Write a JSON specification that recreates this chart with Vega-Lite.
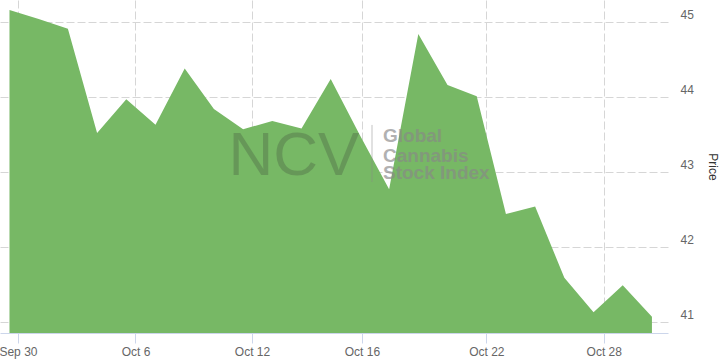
{
  "$schema": "https://vega.github.io/schema/vega-lite/v6.json",
  "width": 668,
  "height": 333,
  "autosize": {"type": "none"},
  "padding": {"left": 0, "top": 0, "right": 53, "bottom": 29},
  "background": "white",
  "config": {
    "view": {"stroke": null},
    "font": "Liberation Sans"
  },
  "data": {
    "values": [
      {"i": 0, "date": "2020-09-30", "price": 45.16},
      {"i": 1, "date": "2020-10-01", "price": 45.04},
      {"i": 2, "date": "2020-10-02", "price": 44.91},
      {"i": 3, "date": "2020-10-05", "price": 43.52},
      {"i": 4, "date": "2020-10-06", "price": 43.97},
      {"i": 5, "date": "2020-10-07", "price": 43.63},
      {"i": 6, "date": "2020-10-08", "price": 44.38},
      {"i": 7, "date": "2020-10-09", "price": 43.84},
      {"i": 8, "date": "2020-10-12", "price": 43.57},
      {"i": 9, "date": "2020-10-13", "price": 43.68},
      {"i": 10, "date": "2020-10-14", "price": 43.58},
      {"i": 11, "date": "2020-10-15", "price": 44.24},
      {"i": 12, "date": "2020-10-16", "price": 43.49},
      {"i": 13, "date": "2020-10-19", "price": 42.77},
      {"i": 14, "date": "2020-10-20", "price": 44.84},
      {"i": 15, "date": "2020-10-21", "price": 44.16},
      {"i": 16, "date": "2020-10-22", "price": 44.01},
      {"i": 17, "date": "2020-10-23", "price": 42.44},
      {"i": 18, "date": "2020-10-26", "price": 42.54},
      {"i": 19, "date": "2020-10-27", "price": 41.59},
      {"i": 20, "date": "2020-10-28", "price": 41.13},
      {"i": 21, "date": "2020-10-29", "price": 41.49},
      {"i": 22, "date": "2020-10-30", "price": 41.07}
    ]
  },
  "encoding": {
    "x": {
      "field": "i",
      "type": "quantitative",
      "scale": {"domain": [-0.325, 22.55], "nice": false, "zero": false},
      "axis": {
        "title": null,
        "values": [0.29, 4.315, 8.305, 12.07, 16.33, 20.35],
        "labelExpr": "datum.value < 2 ? 'Sep 30' : datum.value < 6 ? 'Oct 6' : datum.value < 10 ? 'Oct 12' : datum.value < 14 ? 'Oct 16' : datum.value < 18 ? 'Oct 22' : 'Oct 28'",
        "grid": true,
        "gridColor": "#d6d6d6",
        "gridDash": [8, 3],
        "gridWidth": 1,
        "domainColor": "#ccd6eb",
        "tickColor": "#ccd6eb",
        "tickSize": 10,
        "labelPadding": 3,
        "labelFontSize": 12,
        "labelColor": "#666666",
        "labelFlush": false
      }
    },
    "y": {
      "field": "price",
      "type": "quantitative",
      "scale": {"domain": [40.853, 45.293], "nice": false, "zero": false},
      "axis": {
        "orient": "right",
        "title": "Price",
        "titleColor": "#333333",
        "titleFontWeight": "normal",
        "titleFontSize": 12,
        "titlePadding": 12,
        "values": [41, 42, 43, 44, 45],
        "grid": true,
        "gridColor": "#d6d6d6",
        "gridDash": [8, 3],
        "gridWidth": 1,
        "domain": false,
        "ticks": false,
        "tickSize": 0,
        "labelPadding": 12,
        "labelOffset": -7,
        "labelAlign": "left",
        "labelFontSize": 12,
        "labelColor": "#666666"
      }
    }
  },
  "layer": [
    {
      "mark": {"type": "area", "color": "#77b865", "opacity": 1, "clip": true, "interpolate": "linear"},
      "encoding": {
        "y2": {"datum": 40.853}
      }
    },
    {
      "transform": [{"filter": "datum.i == 0"}],
      "mark": {"type": "text", "text": "NCV", "fontSize": 62, "font": "Liberation Sans", "color": "#333333", "opacity": 0.24, "align": "center", "baseline": "alphabetic"},
      "encoding": {
        "x": {"datum": 9.74, "type": "quantitative"},
        "y": {"datum": 42.96, "type": "quantitative"}
      }
    },
    {
      "transform": [{"filter": "datum.i == 0"}],
      "mark": {"type": "rule", "color": "#888888", "opacity": 0.5, "strokeWidth": 1},
      "encoding": {
        "x": {"datum": 12.414, "type": "quantitative"},
        "y": {"datum": 43.627, "type": "quantitative"},
        "y2": {"datum": 42.867}
      }
    },
    {
      "transform": [{"filter": "datum.i == 0"}],
      "mark": {"type": "text", "text": "Global", "fontSize": 19, "fontWeight": "bold", "font": "Liberation Sans", "color": "#888888", "opacity": 0.65, "align": "left", "baseline": "alphabetic"},
      "encoding": {
        "x": {"datum": 12.79, "type": "quantitative"},
        "y": {"datum": 43.4, "type": "quantitative"}
      }
    },
    {
      "transform": [{"filter": "datum.i == 0"}],
      "mark": {"type": "text", "text": "Cannabis", "fontSize": 19, "fontWeight": "bold", "font": "Liberation Sans", "color": "#888888", "opacity": 0.65, "align": "left", "baseline": "alphabetic"},
      "encoding": {
        "x": {"datum": 12.79, "type": "quantitative"},
        "y": {"datum": 43.133, "type": "quantitative"}
      }
    },
    {
      "transform": [{"filter": "datum.i == 0"}],
      "mark": {"type": "text", "text": "Stock Index", "fontSize": 19, "fontWeight": "bold", "font": "Liberation Sans", "color": "#888888", "opacity": 0.65, "align": "left", "baseline": "alphabetic"},
      "encoding": {
        "x": {"datum": 12.79, "type": "quantitative"},
        "y": {"datum": 42.907, "type": "quantitative"}
      }
    }
  ]
}
